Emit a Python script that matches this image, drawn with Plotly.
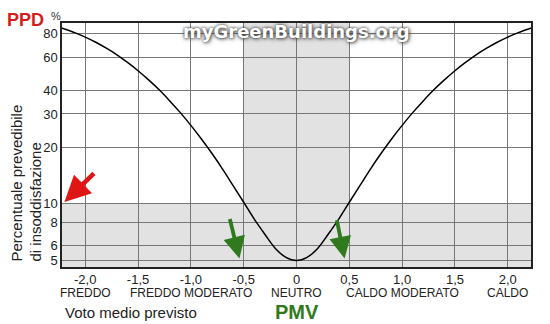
import plotly.graph_objects as go

# ---- data ----
pmv = [-2.25, -2.2, -2.1, -2.0, -1.9, -1.8, -1.7, -1.6, -1.5, -1.4, -1.3, -1.2, -1.1, -1.0,
       -0.9, -0.8, -0.7, -0.6, -0.5, -0.4, -0.3, -0.2, -0.1, 0.0,
       0.1, 0.2, 0.3, 0.4, 0.5, 0.6, 0.7, 0.8, 0.9, 1.0, 1.1, 1.2, 1.3, 1.4,
       1.5, 1.6, 1.7, 1.8, 1.9, 2.0, 2.1, 2.2, 2.25]
ppd = [86.7, 84.9, 81.1, 76.8, 72.1, 67.0, 61.8, 56.3, 50.9, 45.5, 40.3, 35.2, 30.5, 26.1,
       22.1, 18.5, 15.3, 12.5, 10.2, 8.3, 6.9, 5.8, 5.2, 5.0,
       5.2, 5.8, 6.9, 8.3, 10.2, 12.5, 15.3, 18.5, 22.1, 26.1, 30.5, 35.2, 40.3, 45.5,
       50.9, 56.3, 61.8, 67.0, 72.1, 76.8, 81.1, 84.9, 86.7]

x_tickvals = [-2.0, -1.5, -1.0, -0.5, 0.0, 0.5, 1.0, 1.5, 2.0]
x_ticktext = ["-2,0", "-1,5", "-1,0", "-0,5", "0", "0,5", "1,0", "1,5", "2,0"]
y_tickvals = [5, 6, 8, 10, 20, 30, 40, 60, 80]
y_ticktext = ["5", "6", "8", "10", "20", "30", "40", "60", "80"]

cat_pos = [-2.0, -1.0, 0.0, 1.0, 2.0]
cat_labels = ["FREDDO", "FREDDO MODERATO", "NEUTRO", "CALDO MODERATO", "CALDO"]

comfort_pmv = [-0.5, 0.5]
comfort_ppd = 10

x_range = [-2.22, 2.22]
y_range = [0.665, 1.96]  # log10

FONT = "Liberation Sans, Arial, sans-serif"
BAND = "#e2e2e2"
GRID = "#777777"
GREEN = "#2f7a1c"
RED = "#e01515"

fig = go.Figure()
fig.add_trace(go.Scatter(x=pmv, y=ppd, mode="lines", line=dict(color="black", width=1.5, shape="spline"),
                         hoverinfo="skip", showlegend=False))

shapes = [
    dict(type="rect", xref="x", yref="paper", x0=comfort_pmv[0], x1=comfort_pmv[1], y0=0, y1=1,
         fillcolor=BAND, line=dict(width=0), layer="below"),
    dict(type="rect", xref="paper", yref="y", x0=0, x1=1, y0=10 ** y_range[0], y1=comfort_ppd,
         fillcolor=BAND, line=dict(width=0), layer="below"),
]

annotations = []
for p, lab in zip(cat_pos, cat_labels):
    annotations.append(dict(x=p, y=-0.107, xref="x", yref="paper", text=lab, showarrow=False,
                            font=dict(family=FONT, size=12, color="#222"), xanchor="center", yanchor="middle"))

annotations.append(dict(x=(63 - 62) / 469, y=(267 - 312) / 244, xref="paper", yref="paper",
                        text="Voto medio previsto", showarrow=False, xanchor="left", yanchor="middle",
                        font=dict(family=FONT, size=15, color="#222")))
annotations.append(dict(x=0.0, y=(267 - 312) / 244, xref="x", yref="paper", text="<b>PMV</b>",
                        showarrow=False, xanchor="center", yanchor="middle",
                        font=dict(family=FONT, size=20, color=GREEN)))
annotations.append(dict(x=(5 - 62) / 469, y=(267 - 20) / 244, xref="paper", yref="paper", text="<b>PPD</b>",
                        showarrow=False, xanchor="left", yanchor="middle",
                        font=dict(family=FONT, size=18, color="#d41c1c")))
annotations.append(dict(x=(49 - 62) / 469, y=(267 - 16) / 244, xref="paper", yref="paper", text="%",
                        showarrow=False, xanchor="left", yanchor="middle",
                        font=dict(family=FONT, size=11, color="#333")))
annotations.append(dict(x=(26 - 62) / 469, y=(267 - 264) / 244, xref="paper", yref="paper",
                        text="Percentuale prevedibile<br>di insoddisfazione", showarrow=False,
                        textangle=-90, align="left", xanchor="center", yanchor="bottom",
                        font=dict(family=FONT, size=15, color="#222")))
annotations.append(dict(x=0.0, y=(267 - 31) / 244, xref="x", yref="paper", text="<b>myGreenBuildings.org</b>",
                        showarrow=False, xanchor="center", yanchor="middle",
                        font=dict(family="DejaVu Sans", size=18, color="white",
                                  shadow="0px 0px 3px #333, 1px 1px 4px #555")))

# arrows
annotations.append(dict(x=-2.197, y=1.01, xref="x", yref="y", text="", showarrow=True,
                        ax=31, ay=-30, arrowhead=2, arrowsize=1.15, arrowwidth=4.5, arrowcolor=RED))
annotations.append(dict(x=-0.54, y=0.71, xref="x", yref="y", text="", showarrow=True,
                        ax=-10, ay=-41, arrowhead=2, arrowsize=1.15, arrowwidth=3.8, arrowcolor=GREEN))
annotations.append(dict(x=0.455, y=0.71, xref="x", yref="y", text="", showarrow=True,
                        ax=-8, ay=-40, arrowhead=2, arrowsize=1.15, arrowwidth=3.8, arrowcolor=GREEN))

fig.update_layout(
    width=550, height=324,
    margin=dict(l=62, r=19, t=23, b=57),
    paper_bgcolor="white", plot_bgcolor="white",
    shapes=shapes, annotations=annotations,
    font=dict(family=FONT, color="#222"),
    xaxis=dict(range=x_range, tickvals=x_tickvals, ticktext=x_ticktext, showgrid=True,
               gridcolor=GRID, gridwidth=1, zeroline=False, showline=True, linecolor="#222",
               linewidth=1.5, mirror=True, ticks="", tickfont=dict(family=FONT, size=13, color="#222"),
               fixedrange=True),
    yaxis=dict(type="log", range=y_range, tickvals=y_tickvals, ticktext=y_ticktext, showgrid=True,
               gridcolor=GRID, gridwidth=1, zeroline=False, showline=True, linecolor="#222",
               linewidth=1.5, mirror=True, ticks="", tickfont=dict(family=FONT, size=13, color="#222"),
               fixedrange=True),
)

fig.write_html("out.html", config={"displayModeBar": False})
